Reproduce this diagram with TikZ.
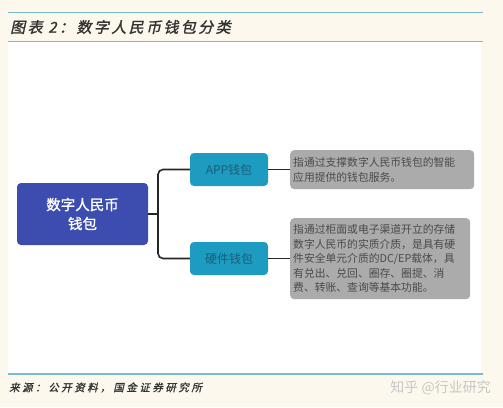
\documentclass[tikz,border=0pt]{standalone}
\usepackage{fontspec}
\setmainfont{Noto Sans CJK SC}
\newfontfamily\cjk{Noto Sans CJK SC}
\newfontfamily\cjkslant[FakeSlant=0.22,FakeBold=1.5,LetterSpace=16]{Noto Sans CJK SC}
\newfontfamily\cjksrc[FakeSlant=0.22,FakeBold=1.2,LetterSpace=24]{Noto Sans CJK SC}
\newfontfamily\cjkbold[FakeBold=1.2]{Noto Sans CJK SC}
\usetikzlibrary{positioning}
\definecolor{cream}{HTML}{FCF8EE}
\definecolor{rulec}{HTML}{78BCCB}
\definecolor{mainblue}{HTML}{3C4DAF}
\definecolor{teal}{HTML}{1D9BC0}
\definecolor{tealtxt}{HTML}{1A5E78}
\definecolor{descgray}{HTML}{ABABAB}
\definecolor{desctxt}{HTML}{4A4A4A}
\tikzset{
  rulestyle/.style={draw=rulec, line width=1.6pt},
  mainbox/.style={fill=mainblue, rounded corners=4pt, minimum width=131pt, minimum height=62pt, text=white, font=\cjkbold\fontsize{14.5}{19}\selectfont, align=center, inner sep=0pt},
  subbox/.style={fill=teal, rounded corners=4pt, minimum width=78pt, minimum height=33pt, text=tealtxt, font=\cjk\fontsize{12}{14}\selectfont, inner sep=0pt},
  descbox/.style={fill=descgray, rounded corners=4pt, text=desctxt, font=\cjk\fontsize{10.8}{14.5}\selectfont, align=left, anchor=north west, inner sep=3pt},
  conn/.style={draw=black!85, line width=1.6pt, rounded corners=5pt},
}
\begin{document}
\begin{tikzpicture}[x=1pt,y=-1pt]
\useasboundingbox (0,0) rectangle (503,407);
\fill[cream] (0,0) rectangle (503,407);
\fill[white] (8,42) rectangle (481,373);
\draw[rulestyle] (8,12.5) -- (483,12.5);
\draw[rulestyle] (8,41.5) -- (483,41.5);
\draw[rulestyle] (8,374) -- (483,374);
\node[anchor=west, font=\cjkslant\fontsize{15}{17}\selectfont, text=black!80, inner sep=0pt] (title) at (10,27) {图表 2：数字人民币钱包分类};
\node[anchor=west, font=\cjksrc\fontsize{10.5}{12}\selectfont, text=black!80, inner sep=0pt] (src) at (9,387.5) {来源：公开资料，国金证券研究所};
\node[anchor=east, font=\cjk\fontsize{14}{16}\selectfont, text=black!22, inner sep=0pt] (wm) at (491,387.5) {知乎 @行业研究};

\node[mainbox] (main) at (82.5,214) {数字人民币\\钱包};
\node[subbox] (app) at (229,169.5) {APP钱包};
\node[subbox] (hw) at (229,258.5) {硬件钱包};
\node[descbox, minimum width=184pt, minimum height=39pt, text width=178pt] (d1) at (290,150) {指通过支撑数字人民币钱包的智能\\应用提供的钱包服务。};
\node[descbox, minimum width=180pt, minimum height=81pt, text width=174pt] (d2) at (290,218) {指通过柜面或电子渠道开立的存储\\数字人民币的实质介质，是具有硬\\件安全单元介质的DC/EP载体，具\\有兑出、兑回、圈存、圈提、消\\费、转账、查询等基本功能。};

\coordinate (trunk) at (158,214);
\draw[conn] (main.east) -- (trunk);
\draw[conn] (app.west) -| (trunk) |- (hw.west);
\draw[conn] (app.east) -- (app.east -| d1.west);
\draw[conn] (hw.east) -- (hw.east -| d2.west);
\end{tikzpicture}
\end{document}
